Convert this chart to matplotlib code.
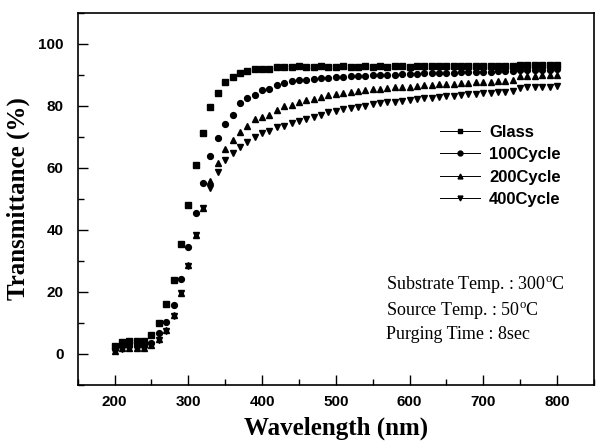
import numpy as np
import matplotlib
matplotlib.use("Agg")
import matplotlib.pyplot as plt
from matplotlib.lines import Line2D
from matplotlib.ticker import MultipleLocator

plt.rcParams['mathtext.fontset'] = 'custom'
plt.rcParams['mathtext.rm'] = 'Liberation Serif'

# wavelength (nm), one point every 10 nm
wavelength = list(range(200, 801, 10))

glass = [2.5, 4.0, 4.2, 4.2, 4.2, 6.0, 10.0, 16.0, 24.0, 35.5,
         48.0, 61.0, 71.4, 79.7, 84.3, 87.7, 89.2, 90.5, 91.4, 92.0,
         92.0, 92.0, 92.6, 92.6, 92.5, 92.7, 92.6, 92.6, 92.7, 92.6,
         92.6, 92.7, 92.6, 92.6, 92.7, 92.6, 92.7, 92.6, 92.7, 92.7,
         92.6, 92.7, 92.8, 92.7, 92.8, 92.7, 92.8, 92.8, 92.7, 92.8,
         92.8, 92.9, 92.8, 92.9, 92.9, 93.1, 93.2, 93.2, 93.3, 93.2,
         93.3]
cycle100 = [1.5, 2.5, 2.5, 2.5, 2.5, 3.4, 6.6, 10.4, 15.8, 24.3,
            34.6, 45.6, 55.2, 63.7, 69.8, 74.3, 77.2, 81.0, 82.4, 83.4,
            85.2, 85.6, 86.7, 87.3, 87.9, 88.2, 88.5, 88.7, 88.9, 89.0,
            89.2, 89.3, 89.5, 89.6, 89.7, 89.8, 89.9, 90.0, 90.1, 90.2,
            90.3, 90.4, 90.5, 90.5, 90.6, 90.7, 90.7, 90.8, 90.8, 90.9,
            91.0, 91.0, 91.1, 91.1, 91.2, 91.5, 91.6, 91.6, 91.7, 91.7,
            91.8]
cycle200 = [1.0, 1.8, 2.0, 2.0, 2.0, 3.0, 4.7, 7.7, 12.6, 19.8,
            28.7, 38.4, 47.2, 55.9, 61.5, 66.1, 69.0, 71.6, 73.5, 75.8,
            76.3, 77.2, 78.7, 79.8, 80.2, 81.3, 81.8, 82.3, 82.9, 83.4,
            83.9, 84.2, 84.5, 84.8, 85.1, 85.3, 85.6, 85.8, 86.0, 86.1,
            86.2, 86.4, 86.6, 86.7, 86.9, 87.0, 87.2, 87.3, 87.4, 87.6,
            87.7, 87.8, 88.0, 88.1, 88.2, 89.6, 89.7, 89.7, 89.8, 89.8,
            89.9]
cycle400 = [0.8, 1.5, 1.8, 1.8, 1.8, 2.8, 4.5, 7.5, 12.4, 19.6,
            28.5, 38.2, 47.0, 53.4, 58.7, 62.6, 64.7, 66.9, 68.4, 70.1,
            71.2, 71.8, 73.1, 73.5, 74.4, 75.1, 75.8, 76.5, 77.2, 77.9,
            78.5, 78.9, 79.3, 79.7, 80.1, 80.5, 80.8, 81.1, 81.4, 81.7,
            81.9, 82.2, 82.4, 82.6, 82.9, 83.1, 83.3, 83.5, 83.7, 83.9,
            84.1, 84.3, 84.5, 84.6, 84.8, 85.9, 86.0, 86.1, 86.2, 86.2,
            86.3]

series = [("Glass", glass, "s"), ("100Cycle", cycle100, "o"),
          ("200Cycle", cycle200, "^"), ("400Cycle", cycle400, "v")]

fig = plt.figure(figsize=(5.98, 4.43), dpi=100)
ax = fig.add_axes([0.130, 0.131, 0.863, 0.840])

handles = []
for name, vals, mk in series:
    ax.plot(wavelength, vals, linestyle='none', marker=mk, markersize=4.2,
            color='black')
    handles.append(Line2D([], [], color='black', marker=mk, markersize=3.5,
                          linewidth=0.7, label=name))

ax.set_xlim(150, 850)
ax.set_ylim(-10, 110)
ax.xaxis.set_minor_locator(MultipleLocator(50))
ax.yaxis.set_minor_locator(MultipleLocator(10))
ax.set_xticks(range(200, 801, 100))
ax.set_yticks(range(0, 101, 20))
ax.tick_params(which='both', direction='in', width=1)
ax.tick_params(which='major', length=7)
ax.tick_params(which='minor', length=4)
ax.tick_params(axis='y', pad=10)
ax.tick_params(axis='x', pad=7)
for lab in ax.get_xticklabels() + ax.get_yticklabels():
    lab.set_fontfamily('Liberation Sans')
    lab.set_fontweight('bold')
    lab.set_fontsize(11)
for s in ax.spines.values():
    s.set_linewidth(1.2)

ax.set_xlabel('Wavelength (nm)', family='Liberation Serif', weight='bold',
              fontsize=18, labelpad=6)
ax.set_ylabel('Transmittance (%)', family='Liberation Serif', weight='bold',
              fontsize=18, labelpad=6)

leg = ax.legend(handles=handles, loc='upper right', bbox_to_anchor=(0.965, 0.74),
                frameon=False, handlelength=2.4, handletextpad=0.55,
                labelspacing=0.45, prop={'family': 'Liberation Sans',
                                         'weight': 'bold', 'size': 12})

notes = ["Substrate Temp. : 300$^{\\rm o}$C",
         "Source Temp. : 50$^{\\rm o}$C",
         "Purging Time : 8sec"]
note_y = [0.268, 0.197, 0.135]
for t, yy in zip(notes, note_y):
    ax.text(0.598, yy, t, transform=ax.transAxes,
            family='Liberation Serif', fontsize=13, va='center')

fig.savefig('out.png', dpi=100)
